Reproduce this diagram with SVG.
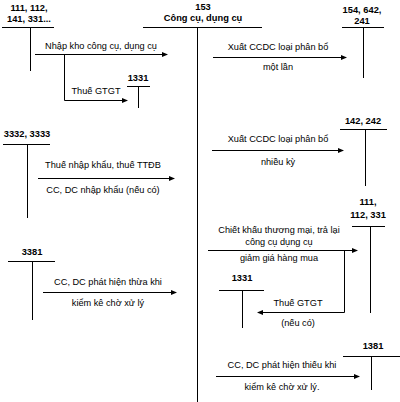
<svg xmlns="http://www.w3.org/2000/svg" width="400" height="402" viewBox="0 0 400 402">
<defs>
<marker id="ah" markerWidth="6" markerHeight="6" refX="5" refY="3" orient="auto" markerUnits="userSpaceOnUse">
<path d="M0,0.5 L6,3 L0,5.5 Z" fill="#000"/>
</marker>
<style>
text{font-family:"Liberation Sans",Arial,sans-serif;font-size:9.2px;fill:#000;text-anchor:middle}
.b{font-weight:bold;font-size:9.3px}
line,polyline{stroke:#000;stroke-width:1;fill:none}
.a{marker-end:url(#ah)}
</style>
</defs>
<rect width="400" height="402" fill="#fff"/>
<g id="acc153">
<text class="b" x="203" y="10">153</text>
<text class="b" x="203" y="21">Công cụ, dụng cụ</text>
<line x1="143" y1="27.5" x2="262" y2="27.5"/>
<line x1="197.5" y1="27" x2="197.5" y2="402"/>
</g>
<g id="acc111a">
<text class="b" x="29" y="11">111, 112,</text>
<text class="b" x="29" y="22">141, 331...</text>
<line x1="2" y1="27.5" x2="54" y2="27.5"/>
<line x1="30.5" y1="27" x2="30.5" y2="71"/>
</g>
<g id="acc1331a">
<text class="b" x="138" y="81">1331</text>
<line x1="127" y1="86.5" x2="150" y2="86.5"/>
<line x1="138.5" y1="86" x2="138.5" y2="108"/>
</g>
<g id="acc154">
<text class="b" x="362" y="13">154, 642,</text>
<text class="b" x="362" y="24">241</text>
<line x1="342" y1="27.5" x2="384" y2="27.5"/>
<line x1="363.5" y1="27" x2="363.5" y2="78"/>
</g>
<g id="acc142">
<text class="b" x="363" y="124">142, 242</text>
<line x1="340" y1="129.5" x2="387" y2="129.5"/>
<line x1="365.5" y1="129" x2="365.5" y2="186"/>
</g>
<g id="acc3332">
<text class="b" x="27" y="137">3332, 3333</text>
<line x1="3" y1="144.5" x2="50" y2="144.5"/>
<line x1="27.5" y1="144" x2="27.5" y2="218"/>
</g>
<g id="acc111b">
<text class="b" x="368" y="205">111,</text>
<text class="b" x="368" y="218">112, 331</text>
<line x1="352" y1="226.5" x2="385" y2="226.5"/>
<line x1="370.5" y1="226" x2="370.5" y2="313"/>
</g>
<g id="acc3381">
<text class="b" x="32" y="255">3381</text>
<line x1="8" y1="261.5" x2="55" y2="261.5"/>
<line x1="32.5" y1="261" x2="32.5" y2="320"/>
</g>
<g id="acc1331b">
<text class="b" x="242" y="281">1331</text>
<line x1="219" y1="290.5" x2="264" y2="290.5"/>
<line x1="242.5" y1="290" x2="242.5" y2="328"/>
</g>
<g id="acc1381">
<text class="b" x="373" y="349">1381</text>
<line x1="343" y1="356.5" x2="400" y2="356.5"/>
<line x1="371.5" y1="356" x2="371.5" y2="390"/>
</g>
<g id="connectors">
<line class="a" x1="35" y1="54.5" x2="167" y2="54.5"/>
<polyline class="a" points="64.5,54.5 64.5,100.5 127,100.5"/>
<line class="a" x1="213" y1="57.5" x2="346" y2="57.5"/>
<line class="a" x1="212" y1="150.5" x2="343" y2="150.5"/>
<line class="a" x1="38" y1="178.5" x2="174" y2="178.5"/>
<line class="a" x1="208" y1="250.5" x2="357" y2="250.5"/>
<polyline class="a" points="344.5,250.5 344.5,312.5 258,312.5"/>
<line class="a" x1="43" y1="292.5" x2="176" y2="292.5"/>
<line class="a" x1="216" y1="376.5" x2="359" y2="376.5"/>
</g>
<g id="labels">
<text x="101" y="49">Nhập kho công cụ, dụng cụ</text>
<text x="96" y="94">Thuế GTGT</text>
<text x="278" y="50">Xuất CCDC loại phân bổ</text>
<text x="278" y="70">một lần</text>
<text x="278" y="142">Xuất CCDC loại phân bổ</text>
<text x="278" y="165">nhiều kỳ</text>
<text x="103" y="168">Thuế nhập khẩu, thuế TTĐB</text>
<text x="103" y="193">CC, DC nhập khẩu (nếu có)</text>
<text x="279" y="233">Chiết khấu thương mại, trả lại</text>
<text x="279" y="245">công cụ dụng cụ</text>
<text x="279" y="261">giảm giá hàng mua</text>
<text x="298" y="306">Thuế GTGT</text>
<text x="298" y="326">(nếu có)</text>
<text x="108" y="285">CC, DC phát hiện thừa khi</text>
<text x="108" y="306">kiểm kê chờ xử lý</text>
<text x="282" y="368">CC, DC phát hiện thiếu khi</text>
<text x="282" y="390">kiểm kê chờ xử lý.</text>
</g>
</svg>
